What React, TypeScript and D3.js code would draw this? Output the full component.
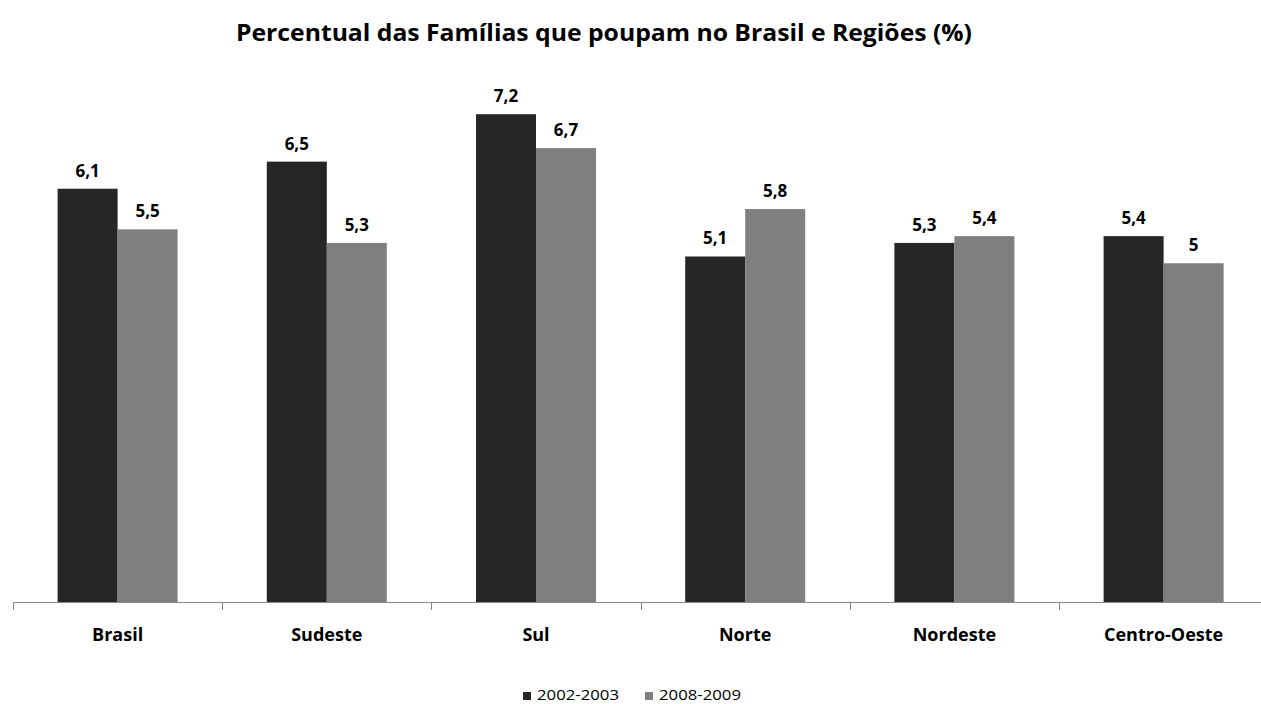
import React, { useEffect, useRef } from 'react';
import * as d3 from 'd3';

const categories = ['Brasil', 'Sudeste', 'Sul', 'Norte', 'Nordeste', 'Centro-Oeste'];
const series2002 = [6.1, 6.5, 7.2, 5.1, 5.3, 5.4];
const series2008 = [5.5, 5.3, 6.7, 5.8, 5.4, 5.0];
const seriesNames = ['2002-2003', '2008-2009'];
const seriesColors = ['#262626', '#7f7f7f'];

const fmt = (v: number) => String(v).replace('.', ',');

const App: React.FC = () => {
    const svgRef = useRef<SVGSVGElement>(null);

    useEffect(() => {
        d3.select(svgRef.current).selectAll('*').remove();

        const width = 1261;
        const height = 704;
        const font = 'Open Sans, sans-serif';

        const svg = d3.select(svgRef.current)
            .attr('width', width)
            .attr('height', height)
            .style('background', '#ffffff');

        // category bands (last band runs past the right edge, as in the original)
        const x = d3.scaleBand<string>()
            .domain(categories)
            .range([13, 13 + 209.2 * categories.length]);

        const inner = d3.scaleBand<string>()
            .domain(seriesNames)
            .range([0, 120]);

        const y = d3.scaleLinear()
            .domain([0, 8])
            .range([602, 60]);

        // Title
        svg.append('text')
            .attr('x', 604)
            .attr('y', 41)
            .attr('text-anchor', 'middle')
            .style('font-family', font)
            .style('font-weight', 'bold')
            .style('font-size', '24px')
            .style('fill', '#000')
            .attr('textLength', 736)
            .attr('lengthAdjust', 'spacingAndGlyphs')
            .text('Percentual das Famílias que poupam no Brasil e Regiões (%)');

        const rows = categories.map((c, i) => ({ c, values: [series2002[i], series2008[i]] }));

        const groups = svg.selectAll('g.cat')
            .data(rows)
            .enter()
            .append('g')
            .attr('class', 'cat')
            .attr('transform', d => `translate(${(x(d.c) as number) + x.bandwidth() / 2 - 60},0)`);

        groups.selectAll('rect')
            .data(d => d.values.map((v, k) => ({ v, k })))
            .enter()
            .append('rect')
            .attr('x', d => inner(seriesNames[d.k]) as number)
            .attr('y', d => y(d.v))
            .attr('width', inner.bandwidth())
            .attr('height', d => y(0) - y(d.v))
            .attr('fill', d => seriesColors[d.k]);

        groups.selectAll('text.val')
            .data(d => d.values.map((v, k) => ({ v, k })))
            .enter()
            .append('text')
            .attr('class', 'val')
            .attr('x', d => (inner(seriesNames[d.k]) as number) + inner.bandwidth() / 2)
            .attr('y', d => y(d.v) - 12)
            .attr('text-anchor', 'middle')
            .style('font-family', font)
            .style('font-weight', 'bold')
            .style('font-size', '17px')
            .style('fill', '#000')
            .text(d => fmt(d.v));

        // X axis
        const axisColor = '#868686';
        const axis = svg.append('g');
        axis.append('line')
            .attr('x1', x.range()[0])
            .attr('x2', x.range()[1])
            .attr('y1', y(0) + 0.5)
            .attr('y2', y(0) + 0.5)
            .attr('stroke', axisColor);
        const ticks = categories.map(c => x(c) as number).concat([x.range()[1]]);
        axis.selectAll('line.tick')
            .data(ticks)
            .enter()
            .append('line')
            .attr('class', 'tick')
            .attr('x1', d => Math.round(d) + 0.5)
            .attr('x2', d => Math.round(d) + 0.5)
            .attr('y1', y(0))
            .attr('y2', y(0) + 8)
            .attr('stroke', axisColor);

        axis.selectAll('text')
            .data(categories)
            .enter()
            .append('text')
            .attr('x', d => (x(d) as number) + x.bandwidth() / 2)
            .attr('y', 641)
            .attr('text-anchor', 'middle')
            .style('font-family', font)
            .style('font-weight', 'bold')
            .style('font-size', '18px')
            .style('fill', '#000')
            .text(d => d);

        // Legend
        const legend = svg.append('g');
        const legendX = [523, 645];
        seriesNames.forEach((name, k) => {
            legend.append('rect')
                .attr('x', legendX[k])
                .attr('y', 692)
                .attr('width', 8)
                .attr('height', 8)
                .attr('fill', seriesColors[k]);
            legend.append('text')
                .attr('x', legendX[k] + 14)
                .attr('y', 700)
                .style('font-family', font)
                .style('font-size', '15px')
                .style('fill', '#000')
                .attr('textLength', 82)
                .attr('lengthAdjust', 'spacingAndGlyphs')
                .text(name);
        });
    }, []);

    return <svg ref={svgRef} style={{ position: 'absolute', left: 0, top: 0 }}></svg>;
};

export default App;
